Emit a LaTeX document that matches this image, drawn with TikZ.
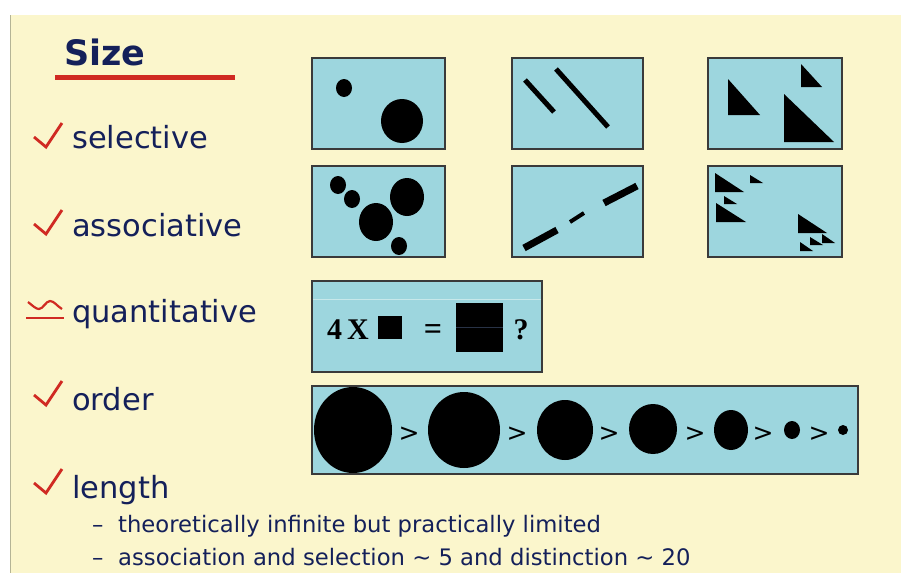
\documentclass[tikz,border=0pt]{standalone}
\usepackage{fontspec}
\setmainfont{DejaVu Sans}
\newfontfamily\serifbold{Liberation Serif}
\definecolor{bgyellow}{HTML}{FBF6CC}
\definecolor{boxblue}{HTML}{9DD6DE}
\definecolor{navy}{HTML}{14205A}
\definecolor{checkred}{HTML}{D02A22}
\definecolor{edge}{HTML}{3A3A3A}
\begin{document}
\begin{tikzpicture}[x=1pt,y=-1pt,
  panel/.style={fill=boxblue,draw=edge,line width=1.2pt},
  label/.style={anchor=base west,inner sep=0pt,text=navy,font=\fontsize{30.5}{36}\selectfont},
  sub/.style={anchor=base west,inner sep=0pt,text=navy,font=\fontsize{22.7}{27}\selectfont},
  tick/.style={draw=checkred,line width=2.8pt,line join=miter},
  gt/.style={inner sep=0pt,font=\fontsize{25}{28}\selectfont},
  sb/.style={inner sep=0pt,font=\serifbold\bfseries\fontsize{30}{34}\selectfont},
  tri/.style={fill=black}]
\useasboundingbox (0,0) rectangle (901,573);
\fill[white] (0,0) rectangle (901,573);
\fill[bgyellow] (10,15) rectangle (901,573);
\draw[color={rgb,255:red,180;green,180;blue,150},line width=1pt] (10.5,15) -- (10.5,573);
% title
\node[anchor=base west,inner sep=0pt,text=navy,font=\fontsize{35}{40}\selectfont\bfseries] (title) at (64,65) {Size};
\fill[checkred] (55,75) rectangle (235,80);
% labels
\node[label] (l1) at (72,148) {selective};
\node[label] (l2) at (72,236) {associative};
\node[label] (l3) at (72,322) {quantitative};
\node[label] (l4) at (72,410) {order};
\node[label] (l5) at (72,498) {length};
\node[sub] (d1) at (92,532) {–};
\node[sub] (s1) at (118,532) {theoretically infinite but practically limited};
\node[sub] (d2) at (92,565) {–};
\node[sub] (s2) at (118,565) {association and selection \char"223C{} 5 and distinction \char"223C{} 20};
% check marks
\draw[tick] (34,137) -- (46,147) -- (62,123);
\draw[tick] (34,224) -- (46,234) -- (62,210);
\draw[tick] (34,395) -- (46,405) -- (62,381);
\draw[tick] (34,483) -- (46,493) -- (62,469);
% approx symbol
\draw[checkred,line width=2.4pt] (26,318) -- (64,318);
\draw[checkred,line width=2.2pt,line join=round] (28,302) .. controls (33,306) and (36,309) .. (39,309) .. controls (43,309) and (46,301) .. (50,301) .. controls (54,301) and (57,306) .. (62,309);
% row 1
\draw[panel] (312,58) rectangle (445,149);
\draw[panel] (512,58) rectangle (643,149);
\draw[panel] (708,58) rectangle (842,149);
\fill (344,88) ellipse [x radius=8, y radius=9];
\fill (402,121) ellipse [x radius=21, y radius=22];
\draw[line width=5pt] (525,80) -- (554,112);
\draw[line width=5pt] (556,69) -- (608,127);
\fill[tri] (728,79) -- (728,115) -- (760,115) -- cycle;
\fill[tri] (801,64) -- (801,87) -- (822,87) -- cycle;
\fill[tri] (784,94) -- (784,142) -- (834,142) -- cycle;
% row 2
\draw[panel] (312,166) rectangle (445,257);
\draw[panel] (512,166) rectangle (643,257);
\draw[panel] (708,166) rectangle (842,257);
\fill (338,185) ellipse [x radius=8, y radius=9];
\fill (352,199) ellipse [x radius=8, y radius=9];
\fill (376,222) ellipse [x radius=17, y radius=19];
\fill (407,197) ellipse [x radius=17, y radius=19];
\fill (399,246) ellipse [x radius=8, y radius=9];
\draw[line width=7pt] (524,248) -- (557,230);
\draw[line width=4pt] (570,222) -- (584,213);
\draw[line width=7pt] (604,203) -- (637,186);
\fill[tri] (715,173) -- (715,192) -- (744,192) -- cycle;
\fill[tri] (750,175) -- (750,183) -- (763,183) -- cycle;
\fill[tri] (724,196) -- (724,204) -- (737,204) -- cycle;
\fill[tri] (716,203) -- (716,222) -- (746,222) -- cycle;
\fill[tri] (798,214) -- (798,233) -- (827,233) -- cycle;
\fill[tri] (822,234) -- (822,243) -- (835,243) -- cycle;
\fill[tri] (810,237) -- (810,245) -- (823,245) -- cycle;
\fill[tri] (800,242) -- (800,251) -- (813,251) -- cycle;
% quantitative
\draw[panel] (312,281) rectangle (542,372);
\draw[color={rgb,255:red,200;green,232;blue,234},line width=1pt] (313,299) -- (541,299);
\node[sb,anchor=base west] (four) at (327,339) {4\,X};
\fill (378,316) rectangle (402,339);
\node[sb,anchor=base,font=\serifbold\bfseries\fontsize{32}{34}\selectfont] (eq) at (433,339) {=};
\fill (456,303) rectangle (503,352);
\draw[color={rgb,255:red,40;green,50;blue,70},line width=0.8pt] (456,327) -- (503,327);
\node[sb,anchor=base] (q) at (521,339) {?};
% order
\draw[panel] (312,386) rectangle (858,474);
\fill (353,430) ellipse [x radius=39, y radius=43];
\fill (464,430) ellipse [x radius=36, y radius=38];
\fill (565,430) ellipse [x radius=28, y radius=30];
\fill (653,429) ellipse [x radius=24, y radius=25];
\fill (731,430) ellipse [x radius=17, y radius=20];
\fill (792,430) ellipse [x radius=8, y radius=9];
\fill (843,430) ellipse [x radius=5, y radius=5];
\node[gt] (g1) at (409,434) {>};
\node[gt] (g2) at (517,434) {>};
\node[gt] (g3) at (609,434) {>};
\node[gt] (g4) at (695,434) {>};
\node[gt] (g5) at (763,434) {>};
\node[gt] (g6) at (819,434) {>};
\end{tikzpicture}
\end{document}
